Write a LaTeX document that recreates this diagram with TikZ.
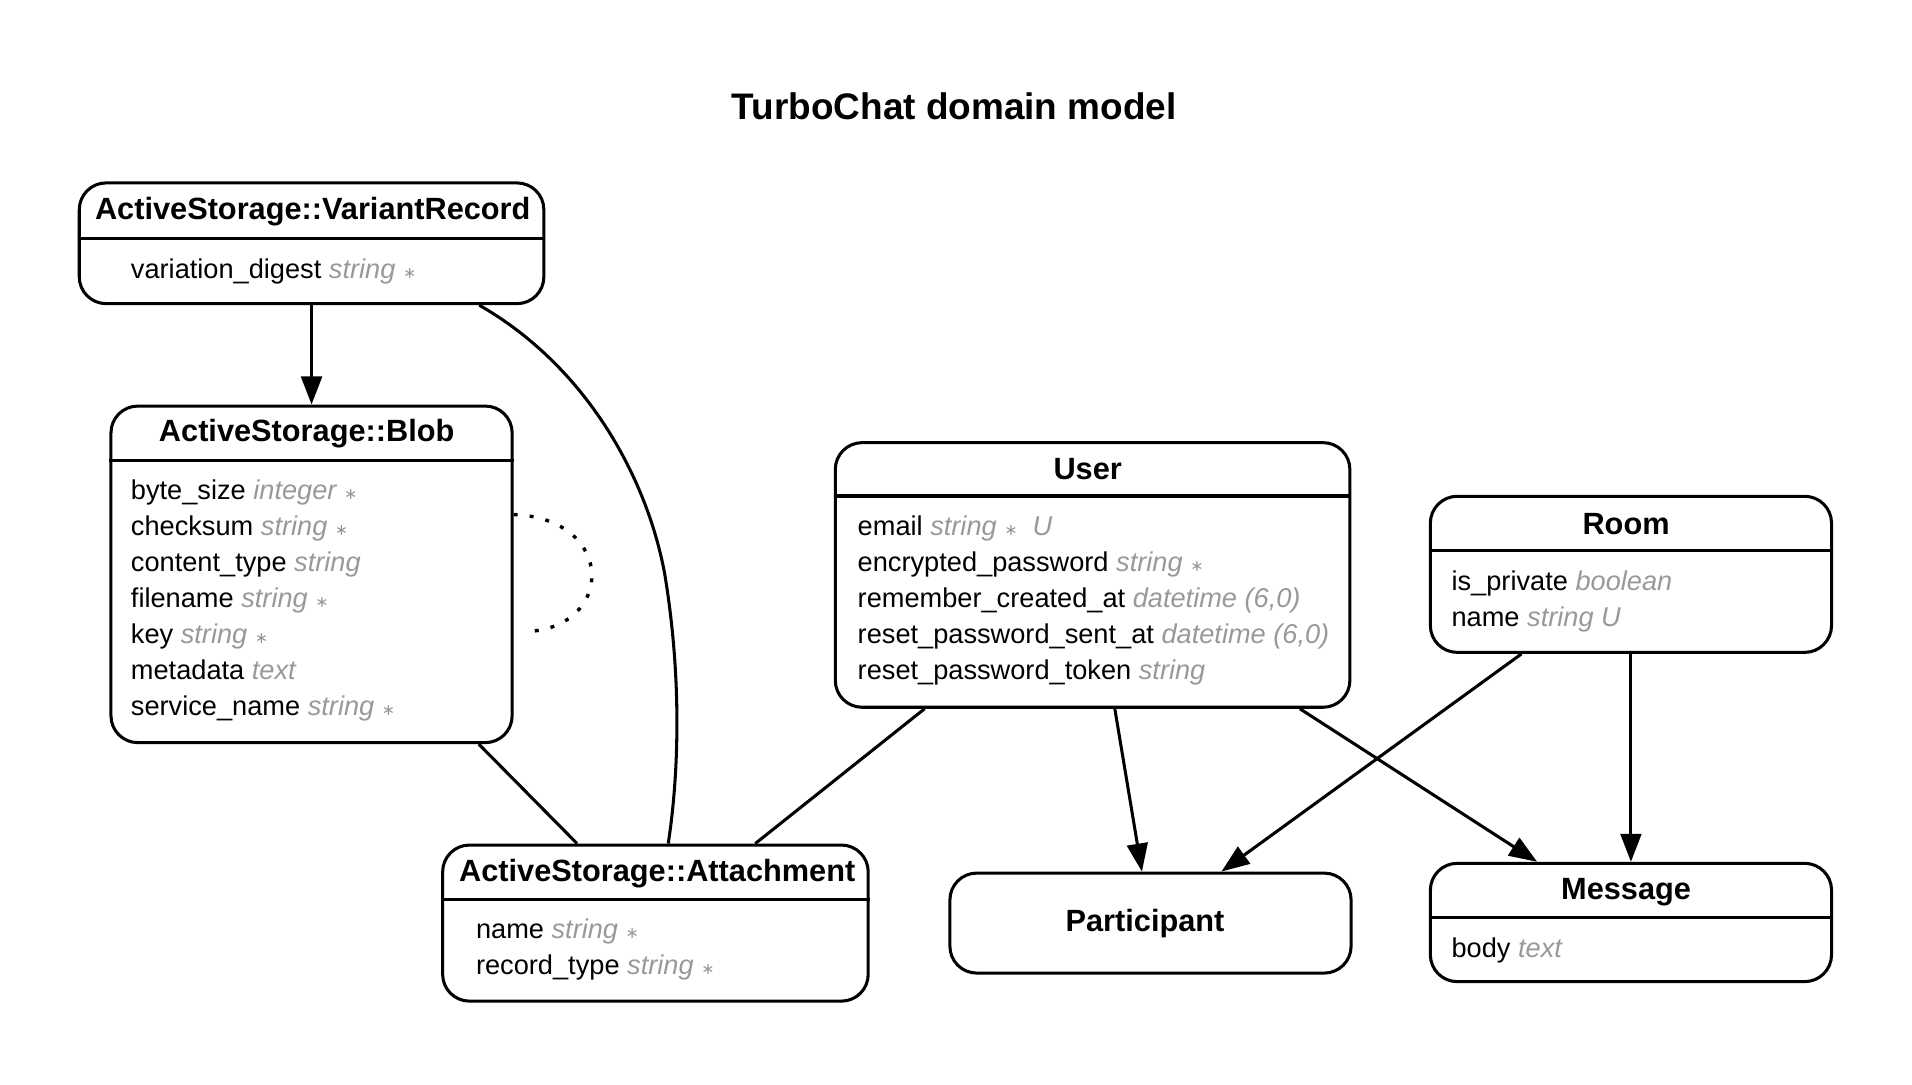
\documentclass[tikz,border=0pt]{standalone}
\usepackage{fontspec}
\setmainfont{Liberation Sans}
\newfontfamily\djv{DejaVu Sans}
\usetikzlibrary{arrows.meta,calc}
\definecolor{typgray}{RGB}{153,153,153}
\newcommand\ty[1]{{\color{typgray}\itshape #1}}
\newcommand\nn{{\color{typgray}\djv\fontsize{6.5}{8}\selectfont ∗}}
\tikzset{
  ent/.style={draw, rectangle, rounded corners=11pt, line width=1.25pt, inner sep=0pt},
  sepl/.style={line width=1.25pt},
  hdr/.style={font=\fontsize{12.6}{14}\selectfont\bfseries, anchor=base, inner sep=0pt},
  att/.style={font=\fontsize{11.15}{14}\selectfont, anchor=base west, inner sep=0pt},
  ttl/.style={font=\fontsize{15.15}{18}\selectfont\bfseries, anchor=base, inner sep=0pt},
  rel/.style={line width=1.25pt},
  arr/.style={line width=1.25pt, -{Triangle[length=11.5pt,width=8.5pt]}},
  loopl/.style={line width=1.4pt, dash pattern=on 1.6pt off 5pt},
}
\begin{document}
\begin{tikzpicture}[x=0.5pt,y=-0.5pt]
\useasboundingbox (0,0) rectangle (1568,889);

\node[ttl] (title) at (782.5,98) {TurboChat domain model};

% Boxes
\node[ent, minimum width=190.5pt, minimum height=49.5pt] (vr) at (255.5,199.5) {};
\node[ent, minimum width=164.5pt, minimum height=138pt] (blob) at (255.5,471) {};
\node[ent, minimum width=211pt, minimum height=108.5pt] (user) at (896,471.5) {};
\node[ent, minimum width=164.5pt, minimum height=64pt] (room) at (1337.5,471) {};
\node[ent, minimum width=174.5pt, minimum height=64pt] (att) at (537.5,757) {};
\node[ent, minimum width=164.5pt, minimum height=41pt] (part) at (943.5,757) {};
\node[ent, minimum width=164.5pt, minimum height=48.5pt] (msg) at (1337.5,756.5) {};

% Separators
\draw[sepl] ($(vr.north west)+(0,47)$) -- ($(vr.north east)+(0,47)$);
\draw[sepl] ($(blob.north west)+(0,46)$) -- ($(blob.north east)+(0,46)$);
\draw[sepl] ($(user.north west)+(0,45)$) -- ($(user.north east)+(0,45)$);
\draw[sepl] ($(room.north west)+(0,46)$) -- ($(room.north east)+(0,46)$);
\draw[sepl] ($(att.north west)+(0,46)$) -- ($(att.north east)+(0,46)$);
\draw[sepl] ($(msg.north west)+(0,46)$) -- ($(msg.north east)+(0,46)$);

% Headers
\node[hdr] (vrh) at (256.5,180) {ActiveStorage::VariantRecord};
\node[hdr] (blobh) at (251.5,362) {ActiveStorage::Blob};
\node[hdr] (userh) at (892,393) {User};
\node[hdr] (roomh) at (1333.5,438) {Room};
\node[hdr] (atth) at (539,723) {ActiveStorage::Attachment};
\node[hdr] (parth) at (939,764) {Participant};
\node[hdr] (msgh) at (1333.5,738) {Message};

% Attributes
\node[att] (vr1) at (107,228) {variation\_digest \ty{string} \nn};

\node[att] (b1) at (107,410) {byte\_size \ty{integer} \nn};
\node[att] (b2) at (107,439.5) {checksum \ty{string} \nn};
\node[att] (b3) at (107,469) {content\_type \ty{string}};
\node[att] (b4) at (107,498.5) {filename \ty{string} \nn};
\node[att] (b5) at (107,528) {key \ty{string} \nn};
\node[att] (b6) at (107,557.5) {metadata \ty{text}};
\node[att] (b7) at (107,587) {service\_name \ty{string} \nn};

\node[att] (u1) at (703,439) {email \ty{string} \nn\ \ \ty{U}};
\node[att] (u2) at (703,468.5) {encrypted\_password \ty{string} \nn};
\node[att] (u3) at (703,498) {remember\_created\_at \ty{datetime (6,0)}};
\node[att] (u4) at (703,527.5) {reset\_password\_sent\_at \ty{datetime (6,0)}};
\node[att] (u5) at (703,557) {reset\_password\_token \ty{string}};

\node[att] (r1) at (1190,484) {is\_private \ty{boolean}};
\node[att] (r2) at (1190,513.5) {name \ty{string U}};

\node[att] (a1) at (390,770) {name \ty{string} \nn};
\node[att] (a2) at (390,799.5) {record\_type \ty{string} \nn};

\node[att] (m1) at (1190,785) {body \ty{text}};

% Connectors
\draw[arr] (vr) -- (blob);
\draw[rel] ($(vr.south)+(137.5,0)$) .. controls (480,300) and (530,390) .. (545,470)
  .. controls (560,560) and (556,640) .. ($(att.north)+(10.5,0)$);
\draw[loopl] ($(blob.east)+(0,-49)$) .. controls (505,425) and (505,515) .. ($(blob.east)+(10,47)$);
\draw[rel] (blob) -- (att);
\draw[rel] (user) -- (att);
\draw[arr] (user) -- (part);
\draw[arr] (user) -- (msg);
\draw[arr] (room) -- (part);
\draw[arr] (room) -- (msg);
\end{tikzpicture}
\end{document}
